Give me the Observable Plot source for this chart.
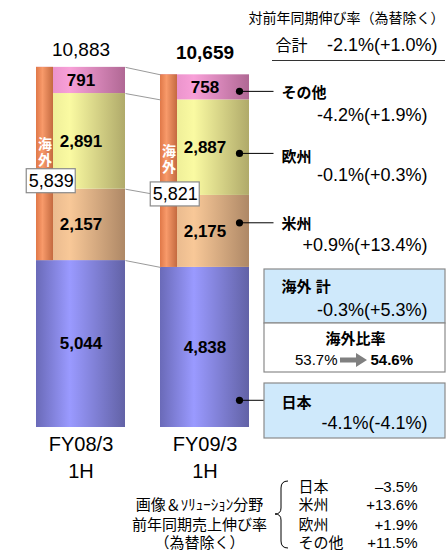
<!DOCTYPE html>
<html><head><meta charset="utf-8">
<script src="https://cdn.jsdelivr.net/npm/d3@7"></script>
<script src="https://cdn.jsdelivr.net/npm/@observablehq/plot@0.6"></script>
<style>body{margin:0;background:#fff} svg{display:block}</style>
</head><body><div id="chart"></div>
<script>
// ---- data ----
const periods = ["FY08/3\n1H", "FY09/3\n1H"];
const regions = ["日本", "米州", "欧州", "その他"];
const japan = [5044, 4838];
const americas = [2157, 2175];
const europe = [2891, 2887];
const other = [791, 758];
const overseas = [5839, 5821];
const totals = [10883, 10659];
const regionGrowth = ["-4.1%(-4.1%)", "+0.9%(+13.4%)", "-0.1%(+0.3%)", "-4.2%(+1.9%)"];
const overseasGrowth = "-0.3%(+5.3%)";
const totalGrowth = "-2.1%(+1.0%)";
const overseasRatio = ["53.7%", "54.6%"];
const imagingRegions = ["日本", "米州", "欧州", "その他"];
const imagingGrowth = ["–3.5%", "+13.6%", "+1.9%", "+11.5%"];

// ---- layout ----
const W = 448, H = 553, MT = 63, MB = 126, YMAX = 11000;
const C0 = 80.5, STEP = 124;
const X = px => (px - C0) / STEP;
const Y = py => (H - MB - py) * YMAX / (H - MB - MT);
const HW = 44.5 / STEP, SW = 17 / STEP;
const FONT = '"Liberation Sans", Arial, "Noto Sans CJK JP", sans-serif';
const fmt = d3.format(",");
const anchorFrac = [0.17, 0.62, 0.44, 0.34];
const gradIds = ["gJP", "gAM", "gEU", "gOT"];

const series = [japan, americas, europe, other];
const segs = [];
periods.forEach((p, i) => {
  let c = 0;
  regions.forEach((r, k) => {
    const v = series[k][i];
    segs.push({i, k, r, y1: c, y2: c + v, v});
    c += v;
  });
});
const bounds = [1, 2, 3, 4].map(n => ({
  b0: d3.sum(series.slice(0, n), s => s[0]),
  b1: d3.sum(series.slice(0, n), s => s[1])
}));
const lastSegs = segs.filter(s => s.i === 1);

const T = (text, px, py, o = {}) => Plot.text([text], {
  x: () => X(px), y: () => Y(py), text: d => d, fill: "#000", fontSize: 15, ...o
});
const BOX = (x1, x2, y1, y2, fill) => Plot.rect([0], {
  x1: () => X(x1), x2: () => X(x2), y1: () => Y(y2), y2: () => Y(y1),
  fill, stroke: "#8a8a8a", strokeWidth: 1.2
});
const boxDy = [-8, -1];
const totalDy = [-21, -18];

const marks = [
  ...regions.map((r, k) => Plot.rect(segs.filter(s => s.k === k), {
    x1: d => d.i - HW, x2: d => d.i + HW, y1: "y1", y2: "y2", fill: `url(#${gradIds[k]})`
  })),
  Plot.rect([0, 1], {
    x1: i => i - HW, x2: i => i - HW + SW, y1: i => japan[i], y2: i => totals[i], fill: "url(#gOS)"
  }),
  Plot.link(bounds, {x1: () => HW, x2: () => 1 - HW, y1: "b0", y2: "b1", stroke: "#9a9a9a", strokeWidth: 1}),
  Plot.text(segs, {x: "i", y: d => (d.y1 + d.y2) / 2, text: d => fmt(d.v), fontWeight: "bold", fontSize: 17, fill: "#000"}),
  Plot.text([0, 1], {x: i => i - HW + SW / 2, y: i => japan[i] + overseas[i] / 2, dy: -12,
    text: () => "海\n外", fill: "#fff", fontWeight: "bold", fontSize: 14, lineHeight: 1.1}),
  ...[0, 1].map(i => Plot.rect([i], {
    x1: d => d - 0.24 - 24.5 / STEP, x2: d => d - 0.24 + 24.5 / STEP,
    y1: d => japan[d] + americas[d] - 12 * YMAX / 364, y2: d => japan[d] + americas[d] + 12 * YMAX / 364,
    dy: boxDy[i], fill: "#fff", stroke: "#8a8a8a", strokeWidth: 1.2
  })),
  ...[0, 1].map(i => Plot.text([i], {
    x: d => d - 0.24, y: d => japan[d] + americas[d], dy: boxDy[i],
    text: d => fmt(overseas[d]), fontSize: 18, fill: "#000"
  })),
  ...[0, 1].map(i => Plot.text([i], {x: d => d, frameAnchor: "top", dy: totalDy[i], text: d => fmt(totals[d]),
    fontSize: 19, fontWeight: i === 1 ? "bold" : "normal", fill: "#000"})),
  Plot.text(periods, {x: (d, i) => i, frameAnchor: "bottom", lineAnchor: "top", dy: 4, lineHeight: 1.35, text: d => d, fontSize: 20, fill: "#000"}),
  // leaders
  Plot.link(lastSegs, {x1: () => 1 + HW - 10 / STEP, x2: () => X(273), y1: d => d.y1 + anchorFrac[d.k] * d.v, y2: d => d.y1 + anchorFrac[d.k] * d.v, stroke: "#000", strokeWidth: 1}),
  Plot.dot(lastSegs, {x: () => 1 + HW - 10 / STEP, y: d => d.y1 + anchorFrac[d.k] * d.v, r: 3.6, fill: "#000"}),
  // header
  T("対前年同期伸び率（為替除く）", 346, 18, {fontSize: 14}),
  T("合計", 275, 45, {textAnchor: "start", fontSize: 16}),
  T(totalGrowth, 437, 45, {textAnchor: "end", fontSize: 18}),
  Plot.ruleY([0], {y: () => Y(60), x1: () => X(272), x2: () => X(445), stroke: "#333", strokeWidth: 1.2}),
  // regions
  T(regions[3], 281, 93, {textAnchor: "start", fontWeight: "bold"}),
  T(regionGrowth[3], 427, 115, {textAnchor: "end", fontSize: 18}),
  T(regions[2], 281, 157, {textAnchor: "start", fontWeight: "bold"}),
  T(regionGrowth[2], 427, 175, {textAnchor: "end", fontSize: 18}),
  T(regions[1], 281, 224, {textAnchor: "start", fontWeight: "bold"}),
  T(regionGrowth[1], 427, 245, {textAnchor: "end", fontSize: 18}),
  BOX(264, 445, 269, 323, "#cfe9fb"),
  BOX(264, 445, 323, 372, "#fff"),
  BOX(264, 445, 383, 438, "#cfe9fb"),
  T("海外 計", 281, 287, {textAnchor: "start", fontWeight: "bold"}),
  T(overseasGrowth, 427, 310, {textAnchor: "end", fontSize: 18}),
  T("海外比率", 355, 339, {fontWeight: "bold"}),
  T(overseasRatio[0], 337, 360, {textAnchor: "end"}),
  T(overseasRatio[1], 370, 360, {textAnchor: "start", fontWeight: "bold"}),
  T(regions[0], 281, 403, {textAnchor: "start", fontWeight: "bold"}),
  T(regionGrowth[0], 427, 423, {textAnchor: "end", fontSize: 18}),
  // bottom note
  T("画像＆ｿﾘｭｰｼｮﾝ分野", 199, 505),
  T("前年同期売上伸び率", 199, 525),
  T("（為替除く）", 199, 543),
  Plot.text(imagingRegions, {x: () => X(298), y: (d, i) => Y([487, 505, 525, 543][i]), text: d => d, textAnchor: "start", fontSize: 15, fill: "#000"}),
  Plot.text(imagingGrowth, {x: () => X(417), y: (d, i) => Y([487, 505, 525, 543][i]), text: d => d, textAnchor: "end", fontSize: 15, fill: "#000"})
];

const plot = Plot.plot({
  width: W, height: H, marginTop: MT, marginBottom: MB, marginLeft: 0, marginRight: 0,
  x: {domain: [X(0), X(W)], axis: null},
  y: {domain: [0, YMAX], axis: null},
  style: {fontFamily: FONT, background: "#fff", overflow: "visible"},
  marks
});

const svg = d3.select(plot);
const defs = svg.insert("defs", ":first-child");
const grads = {
  gJP: ["#6a6ab8", "#9a9aff", "#6262a6"],
  gAM: ["#dcae86", "#f8c898", "#ae8866"],
  gEU: ["#e4e490", "#fafaa2", "#b0aa6a"],
  gOT: ["#de88c0", "#f8a0d8", "#b06894"],
  gOS: ["#e07848", "#f89a6a", "#c46a40"]
};
for (const [id, c] of Object.entries(grads)) {
  const g = defs.append("linearGradient").attr("id", id).attr("x1", 0).attr("x2", 1).attr("y1", 0).attr("y2", 0);
  g.append("stop").attr("offset", "0%").attr("stop-color", c[0]);
  g.append("stop").attr("offset", "38%").attr("stop-color", c[1]);
  g.append("stop").attr("offset", "100%").attr("stop-color", c[2]);
}
// decorations: brace and ratio arrow
svg.append("path")
  .attr("d", "M288,481 Q281,481 281,488 L281,508 Q281,514 275,514 Q281,514 281,520 L281,541 Q281,548 288,548")
  .attr("fill", "none").attr("stroke", "#000").attr("stroke-width", 1);
svg.append("path")
  .attr("d", "M340,357.5 L356,357.5 L356,353 L367,360 L356,367 L356,362.5 L340,362.5 Z")
  .attr("fill", "#808080");
document.getElementById("chart").append(plot);
</script></body></html>
